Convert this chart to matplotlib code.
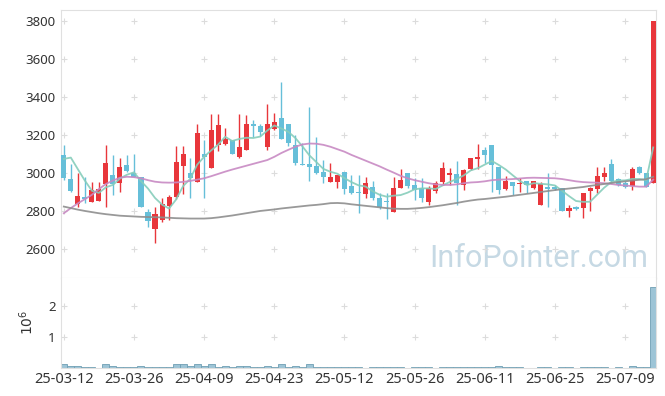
import matplotlib.pyplot as plt
import numpy as np
import pandas as pd

plt.rcParams['font.family'] = ['Noto Sans', 'DejaVu Sans']

# daily candles, 25-03-12 .. 25-07-15 (trading days)
opens = [3095, 2968, 2837, 2875, 2847, 2853, 2942, 2990, 2947, 3042,
         3000, 2979, 2795, 2705, 2753, 2826, 2874, 3037, 3000, 2953,
         3100, 3026, 3147, 3153, 3174, 3084, 3121, 3258, 3247, 3137,
         3232, 3289, 3258, 3147, 3047, 3047, 3037, 3005, 2953, 2953,
         3005, 2932, 2900, 2890, 2926, 2868, 2850, 2795, 2921, 3000,
         2937, 2921, 2847, 2905, 2953, 2990, 2995, 2937, 3021, 3074,
         3121, 3147, 3032, 2916, 2953, 2942, 2958, 2921, 2830, 2925,
         2925, 2921, 2800, 2821, 2816, 2905, 2916, 2979, 3047, 2968,
         2947, 2932, 3032, 3000, 2947]
highs = [3147, 3047, 3000, 2979, 2953, 2953, 3147, 3095, 3079, 3095,
         3100, 2979, 2810, 2821, 2868, 2884, 3142, 3142, 3079, 3258,
         3174, 3310, 3310, 3237, 3174, 3310, 3305, 3279, 3258, 3363,
         3315, 3479, 3258, 3200, 3158, 3347, 3189, 3068, 3053, 2990,
         3005, 2990, 2990, 2979, 2958, 2895, 2895, 2979, 3021, 3000,
         2974, 2974, 2930, 2958, 3058, 3026, 3063, 3021, 3079, 3153,
         3137, 3147, 3032, 2984, 2953, 2974, 2958, 2958, 2950, 3000,
         2935, 2921, 2832, 2826, 2895, 2926, 3032, 3032, 3074, 2974,
         2958, 3032, 3037, 3000, 3800]
lows = [2965, 2900, 2821, 2840, 2847, 2853, 2821, 2884, 2900, 3005,
        2979, 2821, 2716, 2632, 2742, 2753, 2863, 2890, 2868, 2953,
        2870, 3026, 3116, 3147, 3100, 3079, 3121, 3189, 3195, 3121,
        3226, 3179, 3142, 3042, 3040, 2958, 2995, 2947, 2953, 2921,
        2890, 2890, 2789, 2868, 2858, 2810, 2758, 2795, 2921, 2920,
        2858, 2847, 2832, 2895, 2937, 2937, 2832, 2910, 3016, 3021,
        3053, 2900, 2890, 2910, 2884, 2900, 2895, 2915, 2830, 2821,
        2910, 2800, 2768, 2805, 2763, 2800, 2895, 2958, 2953, 2932,
        2920, 2910, 2995, 2926, 2947]
closes = [2974, 2905, 2879, 2865, 2910, 2916, 3053, 2942, 3032, 3011,
          2979, 2821, 2747, 2784, 2837, 2874, 3058, 3100, 2974, 3210,
          3084, 3226, 3253, 3179, 3100, 3137, 3258, 3247, 3216, 3260,
          3270, 3179, 3158, 3053, 3042, 3032, 3000, 2979, 2979, 2990,
          2916, 2895, 2895, 2947, 2868, 2821, 2845, 2921, 2963, 2932,
          2910, 2868, 2921, 2947, 3026, 3000, 2947, 3016, 3079, 3084,
          3095, 3042, 2910, 2958, 2932, 2947, 2937, 2958, 2940, 2918,
          2918, 2800, 2816, 2810, 2895, 2921, 2984, 3000, 2958, 2937,
          2926, 3021, 3000, 2926, 3800]
volumes = [100000, 65000, 65000, 30000, 30000, 0, 130000, 65000, 30000, 30000,
           30000, 65000, 30000, 30000, 30000, 30000, 130000, 100000, 65000, 130000,
           65000, 130000, 30000, 65000, 30000, 65000, 65000, 30000, 30000, 65000,
           30000, 130000, 30000, 65000, 30000, 130000, 30000, 30000, 30000, 30000,
           30000, 30000, 30000, 0, 30000, 30000, 30000, 30000, 30000, 0,
           30000, 30000, 30000, 0, 30000, 30000, 30000, 30000, 30000, 30000,
           30000, 30000, 65000, 30000, 30000, 30000, 0, 0, 30000, 30000,
           0, 30000, 30000, 0, 30000, 30000, 30000, 30000, 0, 30000,
           0, 65000, 30000, 30000, 2630000]

# 5-day average for the first days (needs closes before the window)
ma5_head = [3074, 3081, 3020, 2960]
ma20 = [2788, 2815, 2840, 2862, 2885, 2915, 2942, 2960, 2975, 2980,
        2978, 2972, 2962, 2954, 2950, 2949, 2950, 2953, 2958, 2965,
        2972, 2983, 2995, 3007, 3018, 3028, 3038, 3048, 3058, 3068,
        3085, 3105, 3122, 3138, 3150, 3155, 3154, 3148, 3138, 3125,
        3112, 3095, 3080, 3065, 3050, 3035, 3018, 3002, 2985, 2972,
        2962, 2954, 2946, 2940, 2937, 2937, 2940, 2946, 2950, 2952,
        2956, 2962, 2965, 2966, 2968, 2971, 2974, 2975, 2974, 2973,
        2972, 2968, 2962, 2956, 2952, 2950, 2949, 2946, 2942, 2937,
        2934, 2931, 2928, 2928, 2965]
ma60 = [2823, 2815, 2807, 2800, 2794, 2788, 2783, 2779, 2775, 2773,
        2771, 2769, 2768, 2767, 2766, 2764, 2762, 2761, 2760, 2760,
        2760, 2762, 2766, 2771, 2776, 2782, 2788, 2794, 2800, 2804,
        2808, 2813, 2817, 2821, 2825, 2829, 2832, 2836, 2841, 2842,
        2840, 2835, 2831, 2827, 2823, 2819, 2815, 2812, 2811, 2811,
        2813, 2816, 2820, 2825, 2830, 2836, 2842, 2849, 2855, 2860,
        2863, 2867, 2871, 2875, 2880, 2885, 2890, 2895, 2900, 2905,
        2910, 2914, 2918, 2922, 2926, 2932, 2937, 2942, 2947, 2952,
        2956, 2960, 2964, 2967, 2980]

tick_labels = ['25-03-12', '25-03-26', '25-04-09', '25-04-23', '25-05-12',
               '25-05-26', '25-06-11', '25-06-25', '25-07-09']
price_ticks = [2600, 2800, 3000, 3200, 3400, 3600, 3800]

RED = '#e8363b'
BLUE = '#66bfd9'
GRID = '#dcdcdc'
SPINE = '#e0e0e0'

o = np.array(opens, float)
h = np.array(highs, float)
l = np.array(lows, float)
c = np.array(closes, float)
x = np.arange(len(c))
ma5 = pd.Series(c).rolling(5).mean().to_numpy()
ma5[:4] = ma5_head
xt = x[::10][:len(tick_labels)]

fig = plt.figure(figsize=(6.65, 3.96), dpi=100)
ax = fig.add_axes([61/665, 118/396, 595/665, 268/396])
axv = fig.add_axes([61/665, 28.5/396, 595/665, 89.5/396], sharex=ax)

# candles
col = np.where(c >= o, RED, BLUE)
ax.vlines(x, l, h, colors=col, lw=1, zorder=2)
body = np.maximum(np.abs(c - o), 5)
ax.bar(x, body, bottom=np.minimum(o, c), width=0.72, color=col, lw=0, zorder=3)

ax.plot(x, ma5, color='#86cdbb', lw=1.3, alpha=0.9, zorder=4)
ax.plot(x, ma20, color='#c88ac3', lw=1.3, alpha=0.9, zorder=4)
ax.plot(x, ma60, color='#8e8e8e', lw=1.3, alpha=0.9, zorder=4)

gx, gy = np.meshgrid(xt, price_ticks)
ax.scatter(gx.ravel(), gy.ravel(), marker='+', s=22, color=GRID, lw=0.8, zorder=1)

ax.set_xlim(-0.4, 84.4)
ax.set_ylim(2447, 3858)
ax.set_yticks(price_ticks)
ax.tick_params(length=0, labelsize=9.5, pad=4, labelcolor='#333333')
ax.tick_params(axis='x', labelbottom=False)
for s in ax.spines.values():
    s.set_color(SPINE)

ax.text(0.9866, 0.041, 'InfoPointer.com', transform=ax.transAxes,
        ha='right', va='baseline', fontsize=22, family=['Roboto', 'DejaVu Sans'],
        color='#c6d9e4', zorder=0)

# volume
v = np.array(volumes, float) / 1e6
axv.bar(x, v, width=1.0, color='#9dc4d6', edgecolor='#6f9fb4', lw=0.6)
gx, gy = np.meshgrid(xt, [1, 2])
axv.scatter(gx.ravel(), gy.ravel(), marker='+', s=22, color=GRID, lw=0.8, zorder=1)
axv.set_ylim(0, 2.92)
axv.set_yticks([1, 2])
axv.set_xticks(xt)
axv.set_xticklabels(tick_labels)
axv.tick_params(length=0, labelcolor='#333333')
axv.tick_params(axis='y', labelsize=9.5, pad=4)
axv.tick_params(axis='x', labelsize=10.5, pad=3)
axv.set_ylabel(r'$10^6$', fontsize=10, color='#333333', labelpad=8)
axv.spines['top'].set_visible(False)
for s in ('left', 'right', 'bottom'):
    axv.spines[s].set_color(SPINE)

fig.savefig('out.png', dpi=100)
